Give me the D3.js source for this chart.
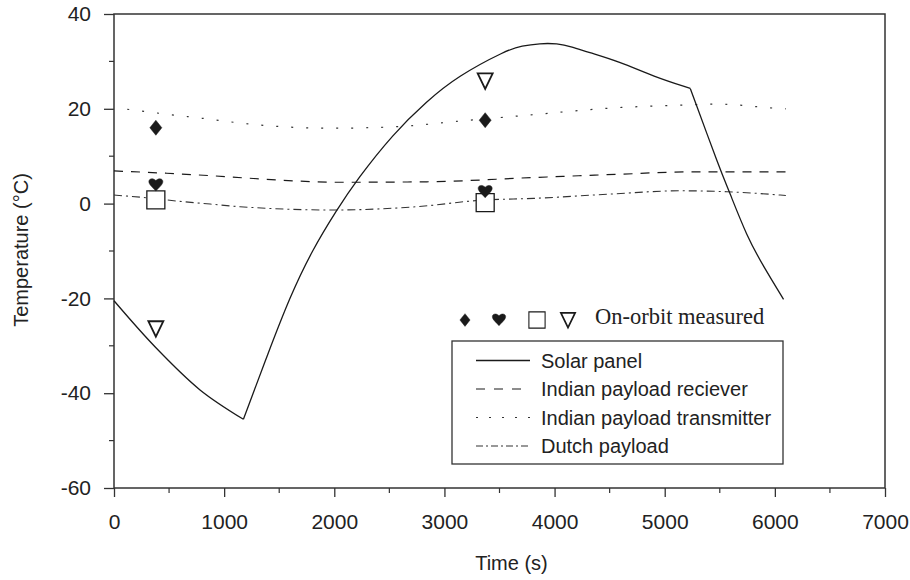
<!DOCTYPE html>
<html>
<head>
<meta charset="utf-8">
<script src="https://cdn.jsdelivr.net/npm/d3@7"></script>
<style>
  html, body { margin: 0; padding: 0; background: #fff; }
  svg { display: block; }
  text { font-family: "Liberation Sans", Arial, sans-serif; fill: #222; }
</style>
</head>
<body>
<svg id="chart" width="910" height="580"></svg>
<script>
// ---------- data ----------
const xTicks = [0, 1000, 2000, 3000, 4000, 5000, 6000, 7000];
const yTicks = [-60, -40, -20, 0, 20, 40];

// Solar panel (three smooth pieces joined at sharp kinks)
const solarSeg1Time = [0, 372, 781, 1175];
const solarSeg1Temp = [-20.5, -30.2, -39.3, -45.5];
const solarSeg2Time = [1175, 1400, 1600, 1800, 2022, 2204, 2537, 2840, 3113, 3567, 3700, 3869, 4021, 4160, 4293, 4596, 4899, 5232];
const solarSeg2Temp = [-45.5, -31.5, -19.5, -9.8, -1.35, 5.0, 14.8, 21.6, 26.8, 32.4, 33.3, 33.8, 33.8, 33.1, 32.0, 29.9, 26.8, 24.3];
const solarSeg3Time = [5232, 5504, 5580, 5747, 5898, 6079];
const solarSeg3Temp = [24.3, 7.1, 2.9, -7.0, -13.3, -20.2];

const receiverTime = [0, 478, 873, 1265, 2053, 2840, 3806, 4600, 5232, 6049, 6100];
const receiverTemp = [6.9, 6.4, 5.9, 5.3, 4.5, 4.6, 5.5, 6.2, 6.7, 6.7, 6.7];

const transmitterTime = [120, 500, 800, 1265, 1960, 2540, 3230, 3780, 4475, 5170, 5470, 6020, 6100];
const transmitterTemp = [19.9, 18.8, 18.0, 16.7, 15.9, 16.2, 17.6, 18.7, 20.1, 20.8, 21.0, 20.1, 20.0];

const dutchTime = [0, 264, 630, 873, 1144, 1990, 2750, 3354, 3810, 4500, 5141, 5565, 6049, 6100];
const dutchTemp = [1.8, 1.3, 0.4, -0.1, -0.65, -1.35, -0.65, 0.75, 1.1, 2.0, 2.7, 2.5, 1.8, 1.7];

// On-orbit measured points
const measTime = [380, 3370];
const measTransmitter = [16.0, 17.6];   // diamonds
const measReceiver = [3.9, 2.5];        // hearts
const measDutch = [0.8, 0.2];           // squares
const measSolar = [-26.4, 25.9];        // down triangles

const legendLabels = ["Solar panel", "Indian payload reciever", "Indian payload transmitter", "Dutch payload"];
const measuredLabel = "On-orbit measured";

// ---------- layout ----------
const svg = d3.select("#chart");
const pL = 114, pR = 885, pT = 14, pB = 488;
const x = d3.scaleLinear().domain([0, 7000]).range([pL, pR]);
const y = d3.scaleLinear().domain([-60, 40]).range([pB, pT]);

const ink = "#1a1a1a";

// frame
svg.append("rect")
  .attr("x", pL).attr("y", pT)
  .attr("width", pR - pL).attr("height", pB - pT)
  .attr("fill", "none").attr("stroke", "#333").attr("stroke-width", 1.5);

// axes
const xMinor = d3.range(500, 7000, 1000);
const yMinor = d3.range(-50, 40, 20);
const fmt = d => String(d);

const xAxis = d3.axisBottom(x).tickValues(xTicks).tickFormat(fmt).tickSize(9).tickPadding(17);
const gx = svg.append("g").attr("transform", `translate(0,${pB})`).call(xAxis);
gx.select(".domain").remove();
gx.selectAll(".tick line").attr("stroke", "#333").attr("stroke-width", 1.3);
gx.selectAll(".tick text").attr("font-size", 21).attr("fill", "#222")
  .style("font-family", "'Liberation Sans', Arial, sans-serif");
svg.append("g").selectAll("line").data(xMinor).join("line")
  .attr("x1", d => x(d)).attr("x2", d => x(d))
  .attr("y1", pB).attr("y2", pB + 5)
  .attr("stroke", "#333").attr("stroke-width", 1.2);

const yAxis = d3.axisLeft(y).tickValues(yTicks).tickFormat(fmt).tickSize(10).tickPadding(13);
const gy = svg.append("g").attr("transform", `translate(${pL},0)`).call(yAxis);
gy.select(".domain").remove();
gy.selectAll(".tick line").attr("stroke", "#333").attr("stroke-width", 1.3);
gy.selectAll(".tick text").attr("font-size", 21).attr("fill", "#222")
  .style("font-family", "'Liberation Sans', Arial, sans-serif");
svg.append("g").selectAll("line").data(yMinor).join("line")
  .attr("x1", pL - 5).attr("x2", pL)
  .attr("y1", d => y(d)).attr("y2", d => y(d))
  .attr("stroke", "#333").attr("stroke-width", 1.2);

// axis titles
svg.append("text").attr("x", (pL + pR) / 2 + 12).attr("y", 570)
  .attr("text-anchor", "middle").attr("font-size", 20).text("Time (s)");
svg.append("text").attr("transform", `translate(28,${250}) rotate(-90)`)
  .attr("text-anchor", "middle").attr("font-size", 20).text("Temperature (\u00B0C)");

// ---------- lines ----------
const zip = (ts, vs) => ts.map((t, i) => [t, vs[i]]);
const lineGen = d3.line().x(d => x(d[0])).y(d => y(d[1])).curve(d3.curveMonotoneX);
const solarCR = d3.line().x(d => x(d[0])).y(d => y(d[1])).curve(d3.curveCatmullRom.alpha(0.5));
const solarBasis = d3.line().x(d => x(d[0])).y(d => y(d[1])).curve(d3.curveBasis);

const plot = svg.append("g");

const styles = {
  solar: { dash: null, width: 1.3, color: ink },
  receiver: { dash: "9,8", width: 1.2, color: ink },
  transmitter: { dash: "2,13", width: 1.2, color: "#333" },
  dutch: { dash: "8,4,2,4", width: 1.1, color: "#333" }
};

function drawLine(data, st, gen) {
  const p = plot.append("path").datum(data)
    .attr("d", gen || lineGen).attr("fill", "none")
    .attr("stroke", st.color).attr("stroke-width", st.width)
    .attr("stroke-linejoin", "miter");
  if (st.dash) p.attr("stroke-dasharray", st.dash);
}

drawLine(zip(transmitterTime, transmitterTemp), styles.transmitter);
drawLine(zip(receiverTime, receiverTemp), styles.receiver);
drawLine(zip(dutchTime, dutchTemp), styles.dutch);
drawLine(zip(solarSeg1Time, solarSeg1Temp), styles.solar, solarCR);
drawLine(zip(solarSeg2Time, solarSeg2Temp), styles.solar, solarBasis);
drawLine(zip(solarSeg3Time, solarSeg3Temp), styles.solar, solarBasis);

// ---------- markers ----------
const diamondPath = "M0,-7.5L6,0L0,7.5L-6,0Z";
const heartPath = "M0,6C-3,2.5,-7,-0.5,-7,-3.5C-7,-6.5,-3,-7.5,0,-4.5C3,-7.5,7,-6.5,7,-3.5C7,-0.5,3,2.5,0,6Z";
const squarePath = "M-9,-9L9,-9L9,9L-9,9Z";
const trianglePath = "M-7.5,-7.5L7.5,-7.5L0,8Z";

function drawMarkers(vals, path, filled, sw) {
  plot.append("g").selectAll("path").data(vals.map((v, i) => [measTime[i], v])).join("path")
    .attr("transform", d => `translate(${x(d[0])},${y(d[1])})`)
    .attr("d", path)
    .attr("fill", filled ? ink : "#fff")
    .attr("stroke", ink).attr("stroke-width", sw)
    .attr("stroke-linejoin", "miter");
}
drawMarkers(measTransmitter, diamondPath, true, 0.5);
drawMarkers(measDutch, squarePath, false, 1.3);
drawMarkers(measReceiver, heartPath, true, 0.5);
drawMarkers(measSolar, trianglePath, false, 1.8);

// ---------- legend ----------
const lg = svg.append("g");
const mY = 320;
const legMarks = [[465, diamondPath, true, 0.5, 0.85], [499, heartPath, true, 0.5, 0.95], [537, squarePath, false, 1.2, 0.9], [568, trianglePath, false, 1.8, 0.95]];
legMarks.forEach(m => {
  lg.append("path").attr("transform", `translate(${m[0]},${mY}) scale(${m[4]})`)
    .attr("d", m[1]).attr("fill", m[2] ? ink : "#fff").attr("stroke", ink).attr("stroke-width", m[3]);
});
lg.append("text").attr("x", 595).attr("y", 324)
  .style("font-family", "'Liberation Serif', 'Times New Roman', serif")
  .attr("font-size", 22.5).text(measuredLabel);

lg.append("rect").attr("x", 452).attr("y", 341).attr("width", 331).attr("height", 123)
  .attr("fill", "#fff").attr("stroke", "#333").attr("stroke-width", 1.3);

const legStyles = [styles.solar, styles.receiver, styles.transmitter, styles.dutch];
legendLabels.forEach((lab, i) => {
  const cy = 360.5 + i * 28.5;
  const st = legStyles[i];
  const l = lg.append("line").attr("x1", 476).attr("x2", 530).attr("y1", cy).attr("y2", cy)
    .attr("stroke", st.color).attr("stroke-width", st.width);
  if (st.dash) l.attr("stroke-dasharray", i === 1 ? "9,9" : (i === 2 ? "2,11" : "7,3,2,3"));
  lg.append("text").attr("x", 541).attr("y", cy + 7).attr("font-size", 20).text(lab);
});
</script>
</body>
</html>
